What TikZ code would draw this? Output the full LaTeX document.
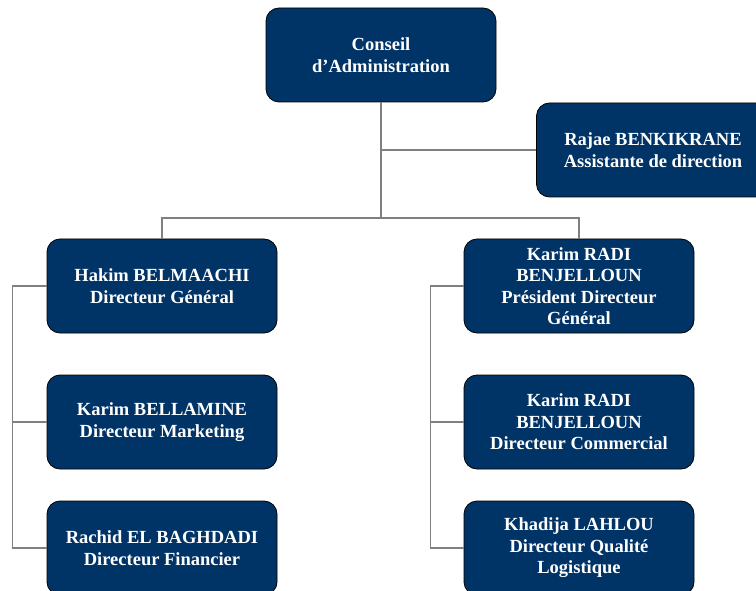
\documentclass[tikz,border=0pt]{standalone}
\usepackage{fontspec}
\setmainfont{Liberation Serif}
\definecolor{boxblue}{RGB}{0,51,102}
\definecolor{linkgray}{RGB}{128,128,128}
\tikzset{
  orgbox/.style={draw=black, line width=0.8pt, fill=boxblue, text=white,
    rounded corners=13pt, minimum width=230pt, minimum height=94pt,
    inner sep=0pt, align=center,
    execute at begin node={\rule{0pt}{18pt}},
    font=\bfseries\fontsize{18.5}{21.5}\selectfont},
  link/.style={draw=linkgray, line width=1.3pt}
}
\begin{document}
\begin{tikzpicture}[x=1pt, y=-1pt]
      \useasboundingbox (0,0) rectangle (756,591);
      \draw
        (381,55) node[orgbox] (conseil){Conseil\\d'Administration}
        (653,150) node[orgbox, minimum width=233pt] (assist){Rajae BENKIKRANE\\Assistante de direction}
        (162,286) node[orgbox] (hakim){Hakim BELMAACHI\\Directeur Général}
        (162,422) node[orgbox] (bellamine){Karim BELLAMINE\\Directeur Marketing}
        (162,548) node[orgbox] (rachid){Rachid EL BAGHDADI\\Directeur Financier}
        (579,286) node[orgbox] (pdg){Karim RADI\\BENJELLOUN\\Président Directeur\\Général}
        (579,422) node[orgbox] (commercial){Karim RADI\\BENJELLOUN\\Directeur Commercial}
        (579,548) node[orgbox] (khadija){Khadija LAHLOU\\Directeur Qualité\\Logistique};
      \coordinate (hub) at (381,218);
      \begin{scope}[link]
        \draw (conseil) to (hub);
        \draw (conseil.south |- assist.west) to (assist.west);
        \draw (hub) -| (hakim.north);
        \draw (hub) -| (pdg.north);
        \draw (hakim.west) -- ++(-34,0) |- (rachid.west);
        \draw (bellamine.west) -- ++(-34,0);
        \draw (pdg.west) -- ++(-33,0) |- (khadija.west);
        \draw (commercial.west) -- ++(-33,0);
      \end{scope}
    \end{tikzpicture}
\end{document}
